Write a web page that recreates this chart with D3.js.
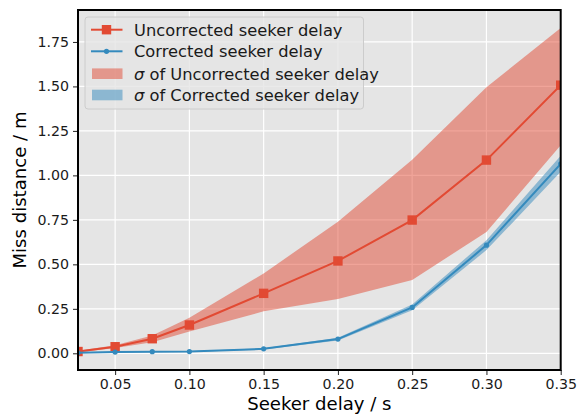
<!DOCTYPE html>
<html><head><meta charset="utf-8">
<script src="https://cdn.jsdelivr.net/npm/d3@7"></script>
<style>body{margin:0;background:#fff;} text{font-family:"DejaVu Sans",sans-serif;}</style>
</head><body>
<svg id="c" width="584" height="416"></svg>
<script>
const delays = [0.025, 0.05, 0.075, 0.1, 0.15, 0.2, 0.25, 0.3, 0.35];
const uncorrected = [0.010, 0.037, 0.082, 0.159, 0.337, 0.519, 0.749, 1.086, 1.507];
const uncorrectedLow = [0.005, 0.030, 0.062, 0.122, 0.236, 0.305, 0.412, 0.682, 1.170];
const uncorrectedHigh = [0.015, 0.045, 0.100, 0.200, 0.449, 0.739, 1.088, 1.496, 1.828];
const corrected = [0.003, 0.007, 0.009, 0.010, 0.025, 0.080, 0.258, 0.608, 1.065];
const correctedLow = [0.001, 0.005, 0.007, 0.008, 0.021, 0.072, 0.242, 0.580, 1.020];
const correctedHigh = [0.005, 0.009, 0.011, 0.012, 0.029, 0.088, 0.274, 0.636, 1.110];
const xTicks = [0.05, 0.10, 0.15, 0.20, 0.25, 0.30, 0.35];
const yTicks = [0, 0.25, 0.5, 0.75, 1.0, 1.25, 1.5, 1.75];
const legendLabels = ["Uncorrected seeker delay", "Corrected seeker delay", "of Uncorrected seeker delay", "of Corrected seeker delay"];

const RED = "#E24A33", BLUE = "#348ABD";
const L = 78, R = 560.7, T = 10, B = 370;
const svg = d3.select("#c");
const x = d3.scaleLinear().domain([0.025, 0.35]).range([L, R]);
const y = d3.scaleLinear().domain([-0.0938, 1.9295]).range([B, T]);

svg.append("defs").append("clipPath").attr("id", "clip")
  .append("rect").attr("x", L).attr("y", T).attr("width", R - L).attr("height", B - T);

svg.append("rect").attr("x", L).attr("y", T).attr("width", R - L).attr("height", B - T).attr("fill", "#E5E5E5");

// grid
const g = svg.append("g").attr("clip-path", "url(#clip)");
g.selectAll(".gx").data(xTicks).join("line")
  .attr("x1", d => x(d)).attr("x2", d => x(d)).attr("y1", T).attr("y2", B)
  .attr("stroke", "#fff").attr("stroke-width", 1.2);
g.selectAll(".gy").data(yTicks).join("line")
  .attr("y1", d => y(d)).attr("y2", d => y(d)).attr("x1", L).attr("x2", R)
  .attr("stroke", "#fff").attr("stroke-width", 1.2);

const idx = delays.map((d, i) => i);
const area = (lo, hi) => d3.area().x(i => x(delays[i])).y0(i => y(lo[i])).y1(i => y(hi[i]));
g.append("path").attr("d", area(uncorrectedLow, uncorrectedHigh)(idx)).attr("fill", RED).attr("fill-opacity", 0.5);
g.append("path").attr("d", area(correctedLow, correctedHigh)(idx)).attr("fill", BLUE).attr("fill-opacity", 0.5);

const line = vals => d3.line().x(i => x(delays[i])).y(i => y(vals[i]));
g.append("path").attr("d", line(uncorrected)(idx)).attr("fill", "none").attr("stroke", RED).attr("stroke-width", 2);
g.selectAll(".sq").data(idx).join("rect")
  .attr("x", i => x(delays[i]) - 4.7).attr("y", i => y(uncorrected[i]) - 4.7)
  .attr("width", 9.4).attr("height", 9.4).attr("fill", RED);
g.append("path").attr("d", line(corrected)(idx)).attr("fill", "none").attr("stroke", BLUE).attr("stroke-width", 2);
g.selectAll(".dot").data(idx).join("circle")
  .attr("cx", i => x(delays[i])).attr("cy", i => y(corrected[i])).attr("r", 2.6).attr("fill", BLUE);

// axes
const xa = svg.append("g").attr("transform", `translate(0,${B})`)
  .call(d3.axisBottom(x).tickValues(xTicks).tickFormat(d3.format(".2f")).tickSize(5).tickPadding(4));
const ya = svg.append("g").attr("transform", `translate(${L},0)`)
  .call(d3.axisLeft(y).tickValues(yTicks).tickFormat(d3.format(".2f")).tickSize(5).tickPadding(4));
[xa, ya].forEach(a => {
  a.select(".domain").remove();
  a.selectAll("text").attr("font-size", 14.2).attr("fill", "#1a1a1a").attr("font-family", "DejaVu Sans");
  a.selectAll("line").attr("stroke", "#222").attr("stroke-width", 1);
});

// spines
svg.append("rect").attr("x", L).attr("y", T).attr("width", R - L).attr("height", B - T)
  .attr("fill", "none").attr("stroke", "#000").attr("stroke-width", 2);

svg.append("text").attr("x", (L + R) / 2).attr("y", 410).attr("text-anchor", "middle")
  .attr("font-size", 18.1).attr("fill", "#000").text("Seeker delay / s");
svg.append("text").attr("transform", `translate(26,${(T + B) / 2}) rotate(-90)`).attr("text-anchor", "middle")
  .attr("font-size", 18.1).attr("fill", "#000").text("Miss distance / m");

// legend
const lg = svg.append("g");
lg.append("rect").attr("x", 85).attr("y", 17).attr("width", 278.5).attr("height", 92).attr("rx", 3)
  .attr("fill", "#E5E5E5").attr("fill-opacity", 0.8).attr("stroke", "#cccccc").attr("stroke-width", 1);
const rows = [29.7, 51.3, 73.7, 95];
lg.append("line").attr("x1", 91).attr("x2", 122.5).attr("y1", rows[0]).attr("y2", rows[0]).attr("stroke", RED).attr("stroke-width", 2);
lg.append("rect").attr("x", 106.5 - 4.7).attr("y", rows[0] - 4.7).attr("width", 9.4).attr("height", 9.4).attr("fill", RED);
lg.append("line").attr("x1", 91).attr("x2", 122.5).attr("y1", rows[1]).attr("y2", rows[1]).attr("stroke", BLUE).attr("stroke-width", 2);
lg.append("circle").attr("cx", 106.5).attr("cy", rows[1]).attr("r", 2.6).attr("fill", BLUE);
lg.append("rect").attr("x", 92).attr("y", rows[2] - 5.3).attr("width", 30.5).attr("height", 10.6).attr("fill", RED).attr("fill-opacity", 0.5);
lg.append("rect").attr("x", 92).attr("y", rows[3] - 5.3).attr("width", 30.5).attr("height", 10.6).attr("fill", BLUE).attr("fill-opacity", 0.5);
legendLabels.forEach((t, i) => {
  const tx = lg.append("text").attr("x", 134).attr("y", rows[i]).attr("dy", "0.36em")
    .attr("font-size", 16.3).attr("fill", "#1a1a1a");
  if (i >= 2) {
    tx.append("tspan").attr("font-style", "italic").text("σ");
    tx.append("tspan").text(" " + t);
  } else tx.text(t);
});
</script>
</body></html>
